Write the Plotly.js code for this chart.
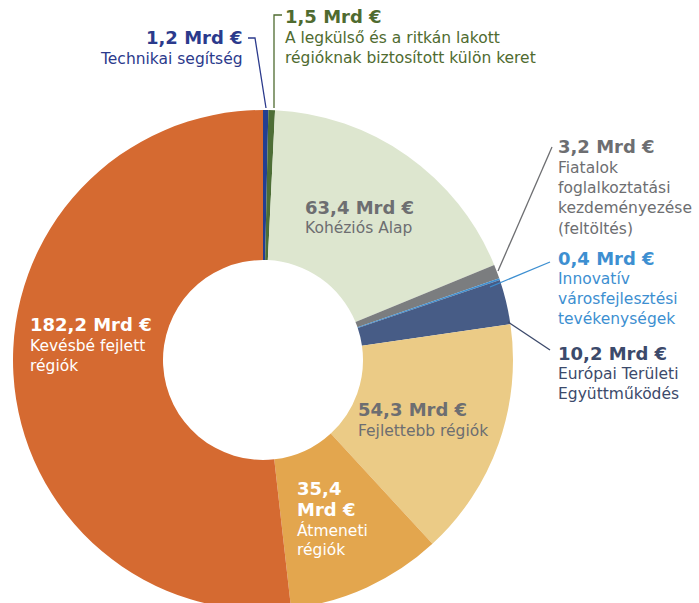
<!DOCTYPE html>
<html>
<head>
<meta charset="utf-8">
<script src="https://cdn.plot.ly/plotly-3.0.1.min.js"></script>
<style>
html,body{margin:0;padding:0;background:#fff;overflow:hidden;}
#wrap{width:699px;height:603px;overflow:hidden;position:relative;}
#chart{width:699px;height:613px;position:absolute;top:0;left:0;}
</style>
</head>
<body>
<div id="wrap"><div id="chart"></div></div>
<script>
// ---- data ----
const categories = [
  "Technikai segítség",
  "A legkülső és a ritkán lakott régióknak biztosított külön keret",
  "Kohéziós Alap",
  "Fiatalok foglalkoztatási kezdeményezése (feltöltés)",
  "Innovatív városfejlesztési tevékenységek",
  "Európai Területi Együttműködés",
  "Fejlettebb régiók",
  "Átmeneti régiók",
  "Kevésbé fejlett régiók"
];
const values = [1.2, 1.5, 63.4, 3.2, 0.4, 10.2, 54.3, 35.4, 182.2];
const amountLabels = ["1,2 Mrd €", "1,5 Mrd €", "63,4 Mrd €", "3,2 Mrd €", "0,4 Mrd €",
                      "10,2 Mrd €", "54,3 Mrd €", "35,4<br>Mrd €", "182,2 Mrd €"];
const descLines = [
  ["Technikai segítség"],
  ["A legkülső és a ritkán lakott", "régióknak biztosított külön keret"],
  ["Kohéziós Alap"],
  ["Fiatalok", "foglalkoztatási", "kezdeményezése", "(feltöltés)"],
  ["Innovatív", "városfejlesztési", "tevékenységek"],
  ["Európai Területi", "Együttműködés"],
  ["Fejlettebb régiók"],
  ["Átmeneti", "régiók"],
  ["Kevésbé fejlett", "régiók"]
];

// ---- styles / layout ----
const sliceColors = ["#233f91", "#4d6e36", "#dde6cf", "#7b7d7f", "#3f8fd0",
                     "#475c86", "#ebcb86", "#e3a64e", "#d56a31"];
const textColors = ["#2b3a8c", "#4f6b30", "#6d6e71", "#6d6e71", "#3d8fd1",
                    "#3c4a6b", "#6d6e71", "#ffffff", "#ffffff"];
// label anchor positions in pixels: [x, y of first line, xanchor]
const labelPos = [
  [245, 38, "right"],
  [283, 17, "left"],
  [303, 207, "left"],
  [556, 147, "left"],
  [556, 258, "left"],
  [556, 353, "left"],
  [356, 410, "left"],
  [295, 488, "left"],
  [28, 325, "left"]
];
// leader lines in pixels
const leaders = [
  {pts: [[248, 38], [255, 38], [266, 108]], color: "#2b3a8c"},
  {pts: [[282, 15], [274, 15], [274, 108]], color: "#4f6b30"},
  {pts: [[552, 147], [498, 271]], color: "#6d6e71"},
  {pts: [[550, 262], [490, 287]], color: "#3d8fd1"},
  {pts: [[550, 350], [508, 322]], color: "#3c4a6b"}
];

const W = 699, H = 613;
const px = x => x / W;
const py = y => (H - y) / H;

const FONT = "DejaVu Sans, Noto Sans, sans-serif";
const annotations = [];
categories.forEach((c, i) => {
  const [x, y, anchor] = labelPos[i];
  const amt = amountLabels[i].split("<br>");
  let yy = y;
  amt.forEach(a => {
    annotations.push({xref: "paper", yref: "paper", x: px(x), y: py(yy), xanchor: anchor, yanchor: "middle",
      showarrow: false, text: "<b>" + a + "</b>", font: {family: FONT, size: 18, color: textColors[i]}});
    yy += 21;
  });
  descLines[i].forEach(l => {
    annotations.push({xref: "paper", yref: "paper", x: px(x), y: py(yy), xanchor: anchor, yanchor: "middle",
      showarrow: false, text: l, font: {family: FONT, size: 15.5, color: textColors[i]}});
    yy += 20.2;
  });
});

const shapes = leaders.map(l => ({
  type: "path", xref: "paper", yref: "paper",
  path: l.pts.map((p, k) => (k ? "L" : "M") + px(p[0]) + "," + py(p[1])).join(" "),
  line: {color: l.color, width: 1.3}
}));

const trace = {
  type: "pie",
  labels: categories,
  values: values,
  sort: false,
  direction: "clockwise",
  rotation: 0,
  hole: 0.4,
  textinfo: "none",
  hoverinfo: "none",
  marker: {colors: sliceColors, line: {width: 0}},
  domain: {x: [13 / W, 513 / W], y: [3 / H, 503 / H]},
  showlegend: false
};

Plotly.newPlot("chart", [trace], {
  width: W, height: H,
  margin: {l: 0, r: 0, t: 0, b: 0},
  paper_bgcolor: "#ffffff",
  showlegend: false,
  annotations: annotations,
  shapes: shapes
}, {displayModeBar: false, staticPlot: true});
</script>
</body>
</html>
